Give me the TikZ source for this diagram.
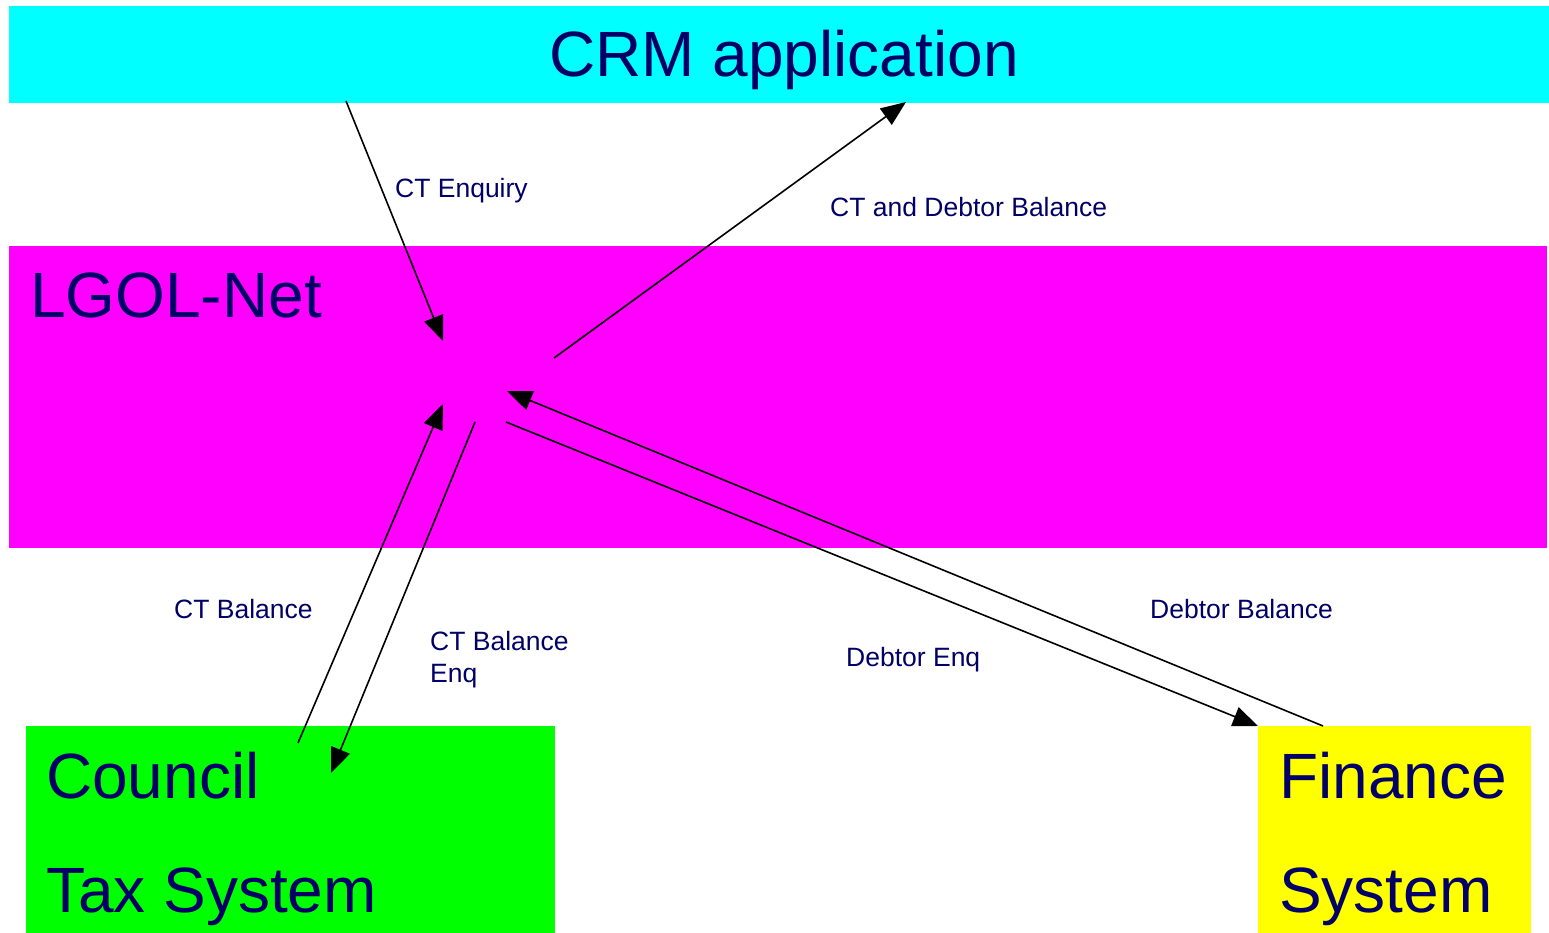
\documentclass[tikz,border=0pt]{standalone}
\usepackage{fontspec}
\setmainfont{Liberation Sans}
\usetikzlibrary{arrows.meta}
\definecolor{navy}{RGB}{0,0,102}
\definecolor{crmcol}{RGB}{0,255,255}
\definecolor{lgolcol}{RGB}{255,0,255}
\definecolor{ctcol}{RGB}{0,255,0}
\definecolor{fincol}{RGB}{255,255,0}
\tikzset{
  boxarea/.style={anchor=north west, inner sep=0pt, draw=none},
  bigtext/.style={text=navy, inner sep=0pt, font=\fontsize{64}{114}\selectfont},
  smalltext/.style={text=navy, inner sep=0pt, anchor=base west, font=\fontsize{26.5}{32}\selectfont},
  flow/.style={line width=1.6pt, -{Triangle[length=25pt,width=20pt]}}
}
\begin{document}
\begin{tikzpicture}[x=1pt,y=-1pt]
\useasboundingbox (0,0) rectangle (1549,933);
% boxes
\node[boxarea, fill=crmcol, minimum width=1540pt, minimum height=97pt] (crm) at (9,6) {};
\node[boxarea, fill=lgolcol, minimum width=1538pt, minimum height=302pt] (lgol) at (9,246) {};
\node[boxarea, fill=ctcol, minimum width=529pt, minimum height=207pt] (ct) at (26,726) {};
\node[boxarea, fill=fincol, minimum width=273pt, minimum height=207pt] (fin) at (1258,726) {};
% titles
\node[bigtext, anchor=base] (crmt) at (784,77) {CRM application};
\node[bigtext, anchor=base west] (lgolt) at (30,317) {LGOL-Net};
\node[bigtext, anchor=base west] (ctt1) at (46,798) {Council};
\node[bigtext, anchor=base west] (ctt2) at (46,912) {Tax System};
\node[bigtext, anchor=base west] (fint1) at (1279,798) {Finance};
\node[bigtext, anchor=base west] (fint2) at (1279,912) {System};
% end points
\coordinate (enqS) at (346,101);
\coordinate (enqE) at (443,341);
\coordinate (balS) at (554,358);
\coordinate (balE) at (906,102);
\coordinate (ctbS) at (298,743);
\coordinate (ctbE) at (443,404);
\coordinate (cteS) at (475,422);
\coordinate (cteE) at (331,773);
\coordinate (deS) at (506,422);
\coordinate (deE) at (1258,726);
\coordinate (dbS) at (1323,726);
\coordinate (dbE) at (507,391);
% connectors
\draw[flow] (enqS) -- (enqE);
\draw[flow] (balS) -- (balE);
\draw[flow] (ctbS) -- (ctbE);
\draw[flow] (cteS) -- (cteE);
\draw[flow] (deS) -- (deE);
\draw[flow] (dbS) -- (dbE);
% labels
\node[smalltext] (l1) at (395,198) {CT Enquiry};
\node[smalltext] (l2) at (830,217) {CT and Debtor Balance};
\node[smalltext] (l3) at (174,618) {CT Balance};
\node[smalltext] (l4) at (430,650) {CT Balance};
\node[smalltext] (l4b) at (430,682) {Enq};
\node[smalltext] (l5) at (846,666) {Debtor Enq};
\node[smalltext] (l6) at (1150,618) {Debtor Balance};
\end{tikzpicture}
\end{document}
